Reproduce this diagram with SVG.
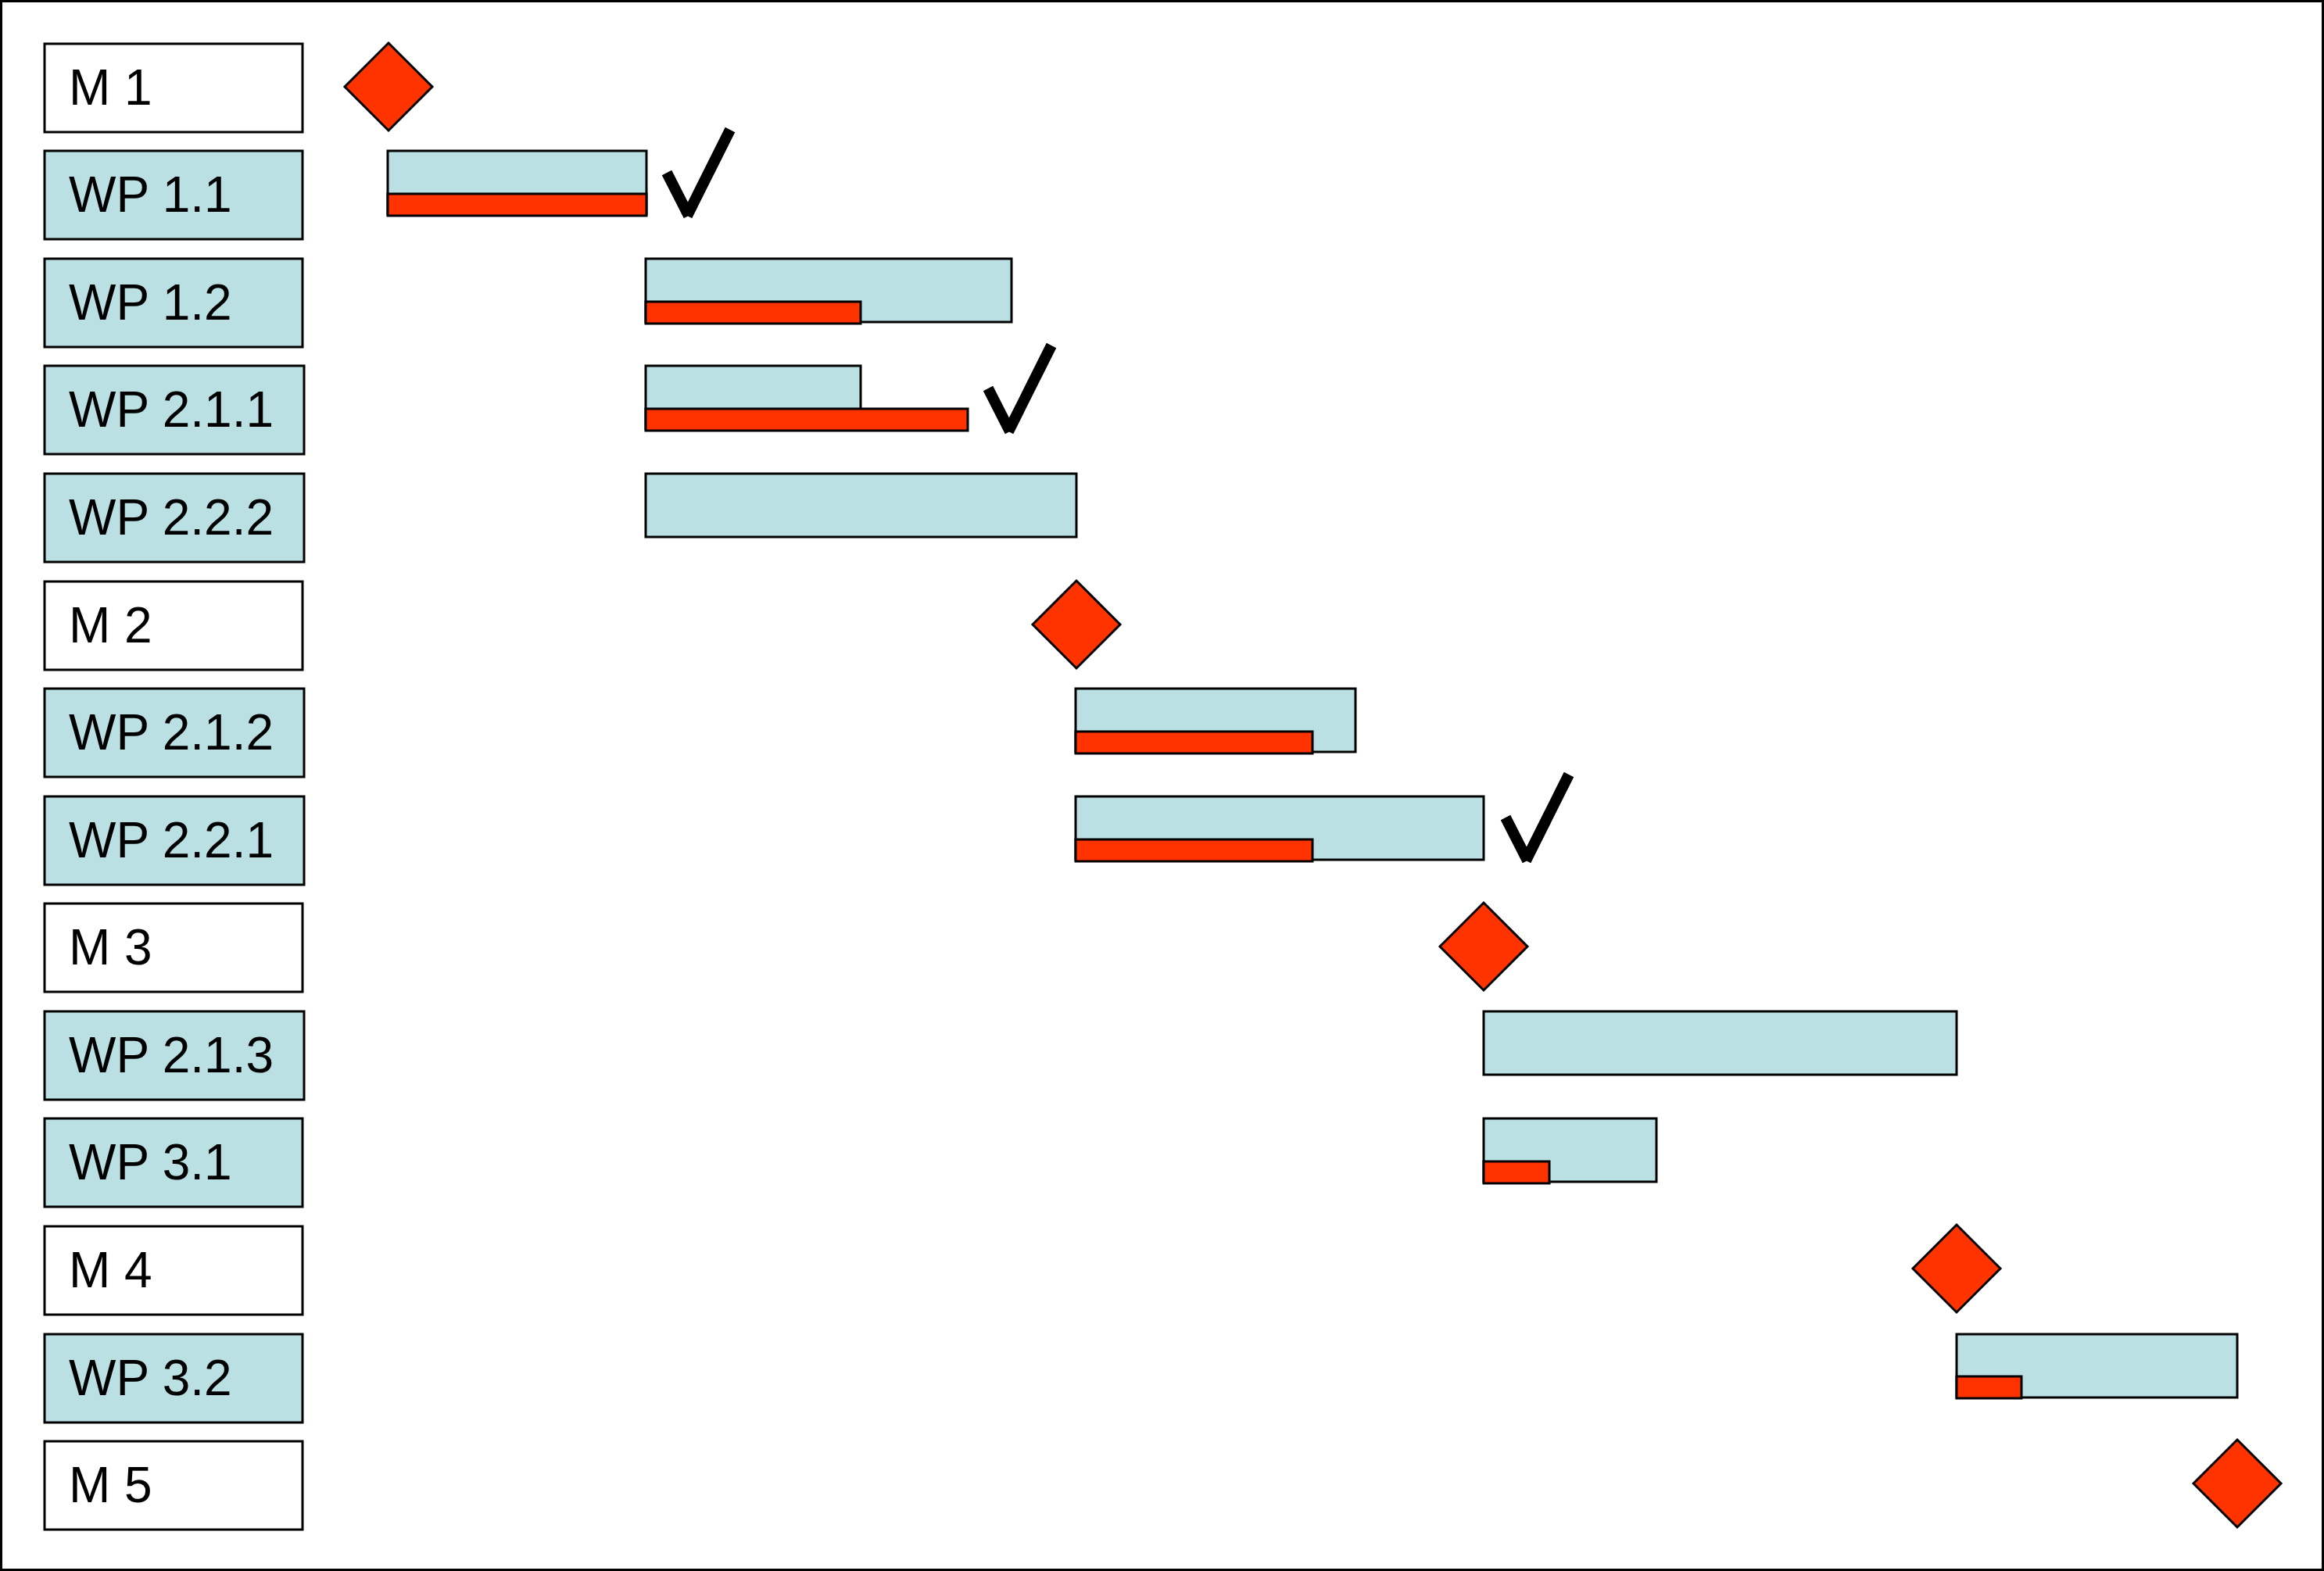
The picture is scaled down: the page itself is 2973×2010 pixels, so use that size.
<svg xmlns="http://www.w3.org/2000/svg" width="2973" height="2010" viewBox="0 0 2973 2010">
<style>
.lbl{stroke:#000;stroke-width:3}
.wp{fill:#BBE0E3}
.ms{fill:#FFFFFF}
.bar{fill:#BBE0E3;stroke:#000;stroke-width:3}
.prog{fill:#FF3300;stroke:#000;stroke-width:3}
.dia{fill:#FF3300;stroke:#000;stroke-width:3}
.chk{fill:none;stroke:#000;stroke-width:14;stroke-linecap:butt}
text{font-family:"Liberation Sans",Arial,sans-serif;font-size:64px;fill:#000}
</style>
<defs>
<polygon id="diamond" points="0,-56 56,0 0,56 -56,0"/>
<g id="check"><line x1="-27" y1="-53" x2="1" y2="2"/><line x1="-1" y1="2" x2="54" y2="-108"/></g>
</defs>
<rect x="1.5" y="1.5" width="2970" height="2007" fill="#FFFFFF" stroke="#000" stroke-width="3"/>

<g id="row-m1">
<rect class="lbl ms" x="57" y="56" width="330" height="113"/>
<text x="88" y="134">M 1</text>
<use href="#diamond" class="dia" x="497" y="111"/>
</g>
<g id="row-wp1-1">
<rect class="lbl wp" x="57" y="193" width="330" height="113"/>
<text x="88" y="271">WP 1.1</text>
<rect class="bar" x="496" y="193" width="331" height="81"/>
<rect class="prog" x="496" y="248" width="331" height="28"/>
<use href="#check" class="chk" x="880" y="274"/>
</g>
<g id="row-wp1-2">
<rect class="lbl wp" x="57" y="331" width="330" height="113"/>
<text x="88" y="409">WP 1.2</text>
<rect class="bar" x="826" y="331" width="468" height="81"/>
<rect class="prog" x="826" y="386" width="275" height="28"/>
</g>
<g id="row-wp2-1-1">
<rect class="lbl wp" x="57" y="468" width="332" height="113"/>
<text x="88" y="546">WP 2.1.1</text>
<rect class="bar" x="826" y="468" width="275" height="81"/>
<rect class="prog" x="826" y="523" width="412" height="28"/>
<use href="#check" class="chk" x="1291" y="550"/>
</g>
<g id="row-wp2-2-2">
<rect class="lbl wp" x="57" y="606" width="332" height="113"/>
<text x="88" y="684">WP 2.2.2</text>
<rect class="bar" x="826" y="606" width="551" height="81"/>
</g>
<g id="row-m2">
<rect class="lbl ms" x="57" y="744" width="330" height="113"/>
<text x="88" y="822">M 2</text>
<use href="#diamond" class="dia" x="1377" y="799"/>
</g>
<g id="row-wp2-1-2">
<rect class="lbl wp" x="57" y="881" width="332" height="113"/>
<text x="88" y="959">WP 2.1.2</text>
<rect class="bar" x="1376" y="881" width="358" height="81"/>
<rect class="prog" x="1376" y="936" width="303" height="28"/>
</g>
<g id="row-wp2-2-1">
<rect class="lbl wp" x="57" y="1019" width="332" height="113"/>
<text x="88" y="1097">WP 2.2.1</text>
<rect class="bar" x="1376" y="1019" width="522" height="81"/>
<rect class="prog" x="1376" y="1074" width="303" height="28"/>
<use href="#check" class="chk" x="1953" y="1099"/>
</g>
<g id="row-m3">
<rect class="lbl ms" x="57" y="1156" width="330" height="113"/>
<text x="88" y="1234">M 3</text>
<use href="#diamond" class="dia" x="1898" y="1211"/>
</g>
<g id="row-wp2-1-3">
<rect class="lbl wp" x="57" y="1294" width="332" height="113"/>
<text x="88" y="1372">WP 2.1.3</text>
<rect class="bar" x="1898" y="1294" width="605" height="81"/>
</g>
<g id="row-wp3-1">
<rect class="lbl wp" x="57" y="1431" width="330" height="113"/>
<text x="88" y="1509">WP 3.1</text>
<rect class="bar" x="1898" y="1431" width="221" height="81"/>
<rect class="prog" x="1898" y="1486" width="84" height="28"/>
</g>
<g id="row-m4">
<rect class="lbl ms" x="57" y="1569" width="330" height="113"/>
<text x="88" y="1647">M 4</text>
<use href="#diamond" class="dia" x="2503" y="1623"/>
</g>
<g id="row-wp3-2">
<rect class="lbl wp" x="57" y="1707" width="330" height="113"/>
<text x="88" y="1785">WP 3.2</text>
<rect class="bar" x="2503" y="1707" width="359" height="81"/>
<rect class="prog" x="2503" y="1761" width="83" height="28"/>
</g>
<g id="row-m5">
<rect class="lbl ms" x="57" y="1844" width="330" height="113"/>
<text x="88" y="1922">M 5</text>
<use href="#diamond" class="dia" x="2862" y="1898"/>
</g>
<g id="connectors"></g>
</svg>
